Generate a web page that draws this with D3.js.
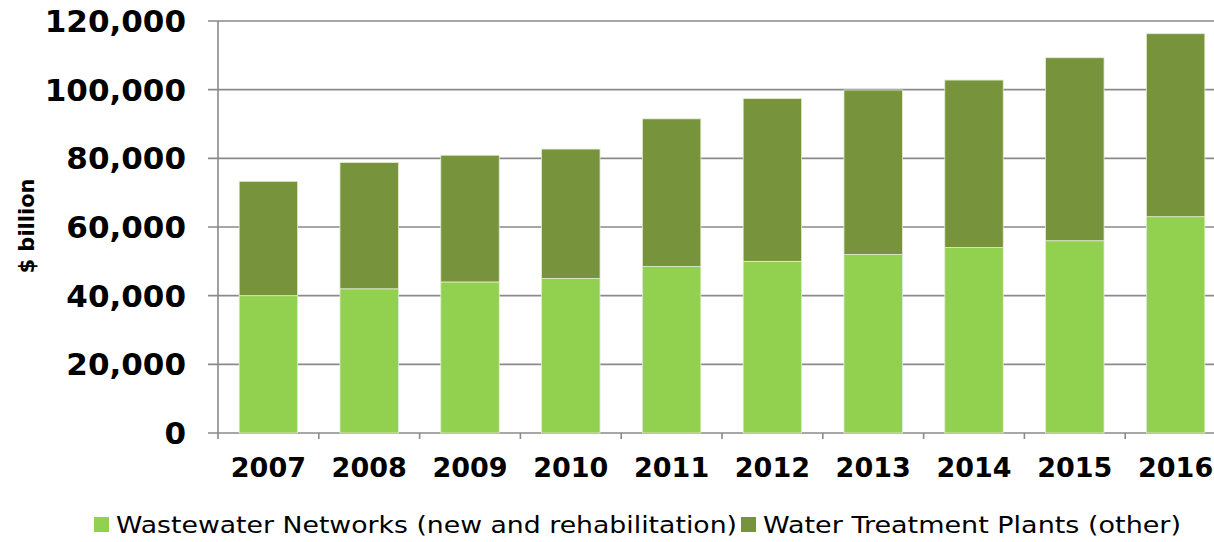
<!DOCTYPE html>
<html>
<head>
<meta charset="utf-8">
<script src="https://cdn.jsdelivr.net/npm/d3@7"></script>
<style>
  body { margin: 0; background: #fff; }
  svg { display: block; }
  text { font-family: "DejaVu Sans", Verdana, sans-serif; }
</style>
</head>
<body>
<svg id="chart" width="1214" height="542"></svg>
<script>
// data ($ billion)
var years = ["2007", "2008", "2009", "2010", "2011", "2012", "2013", "2014", "2015", "2016"];
var wastewater = [40000, 42000, 44000, 45000, 48500, 50000, 52000, 54000, 56000, 63000];
var treatment = [33300, 36800, 36900, 37700, 43000, 47400, 47900, 48800, 53300, 53300];
var seriesNames = ["Wastewater Networks (new and rehabilitation)", "Water Treatment Plants (other)"];
var seriesColors = ["#92d050", "#77933c"];
var yTicks = [0, 20000, 40000, 60000, 80000, 100000, 120000];

var svg = d3.select("#chart");
var plotLeft = 218, plotRight = 1226, plotTop = 21, plotBottom = 433;

var x = d3.scaleBand().domain(years).range([plotLeft, plotRight]).paddingInner(0.42).paddingOuter(0.21);
var xTicks = d3.scaleBand().domain(years).range([plotLeft, plotRight]);
var y = d3.scaleLinear().domain([0, 120000]).range([plotBottom, plotTop]);

// gridlines
svg.append("g").selectAll("line")
    .data(yTicks)
    .enter().append("line")
    .attr("x1", plotLeft - 10).attr("x2", 1214)
    .attr("y1", function(d){ return y(d); })
    .attr("y2", function(d){ return y(d); })
    .attr("stroke", "#8a8a8a").attr("stroke-width", 1.6);

// stacked bars
var rows = years.map(function(yr, i){
    return {year: yr, a: wastewater[i], b: treatment[i]};
});
var stack = d3.stack().keys(["a", "b"])(rows);

svg.append("g").selectAll("g")
    .data(stack)
    .enter().append("g")
    .attr("fill", function(d, i){ return seriesColors[i]; })
    .selectAll("rect")
    .data(function(d){ return d; })
    .enter().append("rect")
    .attr("x", function(d){ return x(d.data.year); })
    .attr("width", x.bandwidth())
    .attr("y", function(d){ return y(d[1]); })
    .attr("height", function(d){ return y(d[0]) - y(d[1]); })
    .attr("stroke", "#e4ecd4").attr("stroke-width", 0.8);

// y axis line
svg.append("line")
    .attr("x1", plotLeft).attr("x2", plotLeft)
    .attr("y1", plotTop).attr("y2", plotBottom)
    .attr("stroke", "#8a8a8a").attr("stroke-width", 1.6);

// y tick labels
svg.append("g").selectAll("text")
    .data(yTicks)
    .enter().append("text")
    .attr("x", 186)
    .attr("y", function(d){ return y(d); })
    .attr("dy", "0.36em")
    .attr("text-anchor", "end")
    .attr("font-size", 31).attr("font-weight", "bold")
    .text(function(d){ return d3.format(",")(d); });

// x axis ticks at band edges
svg.append("g").selectAll("line")
    .data(years)
    .enter().append("line")
    .attr("x1", function(d){ return xTicks(d); })
    .attr("x2", function(d){ return xTicks(d); })
    .attr("y1", plotBottom).attr("y2", plotBottom + 6)
    .attr("stroke", "#8a8a8a").attr("stroke-width", 1.6);

// x labels
svg.append("g").selectAll("text")
    .data(years)
    .enter().append("text")
    .attr("x", function(d){ return xTicks(d) + xTicks.bandwidth() / 2; })
    .attr("y", 477)
    .attr("text-anchor", "middle")
    .attr("font-size", 27).attr("font-weight", "bold")
    .text(function(d){ return d; });

// y axis title
svg.append("text")
    .attr("transform", "translate(34,226) rotate(-90)")
    .attr("text-anchor", "middle")
    .attr("font-size", 21).attr("font-weight", "bold")
    .text("$ billion");

// legend
var legendX = [94, 741];
var legendWidths = [621, 418];
var legend = svg.append("g").selectAll("g")
    .data(seriesNames)
    .enter().append("g")
    .attr("transform", function(d, i){ return "translate(" + legendX[i] + ",517)"; });
legend.append("rect")
    .attr("width", 15).attr("height", 15)
    .attr("fill", function(d, i){ return seriesColors[i]; });
legend.append("text")
    .attr("x", 22).attr("y", 16)
    .attr("font-size", 23)
    .attr("textLength", function(d, i){ return legendWidths[i]; })
    .attr("lengthAdjust", "spacingAndGlyphs")
    .text(function(d){ return d; });
</script>
</body>
</html>
